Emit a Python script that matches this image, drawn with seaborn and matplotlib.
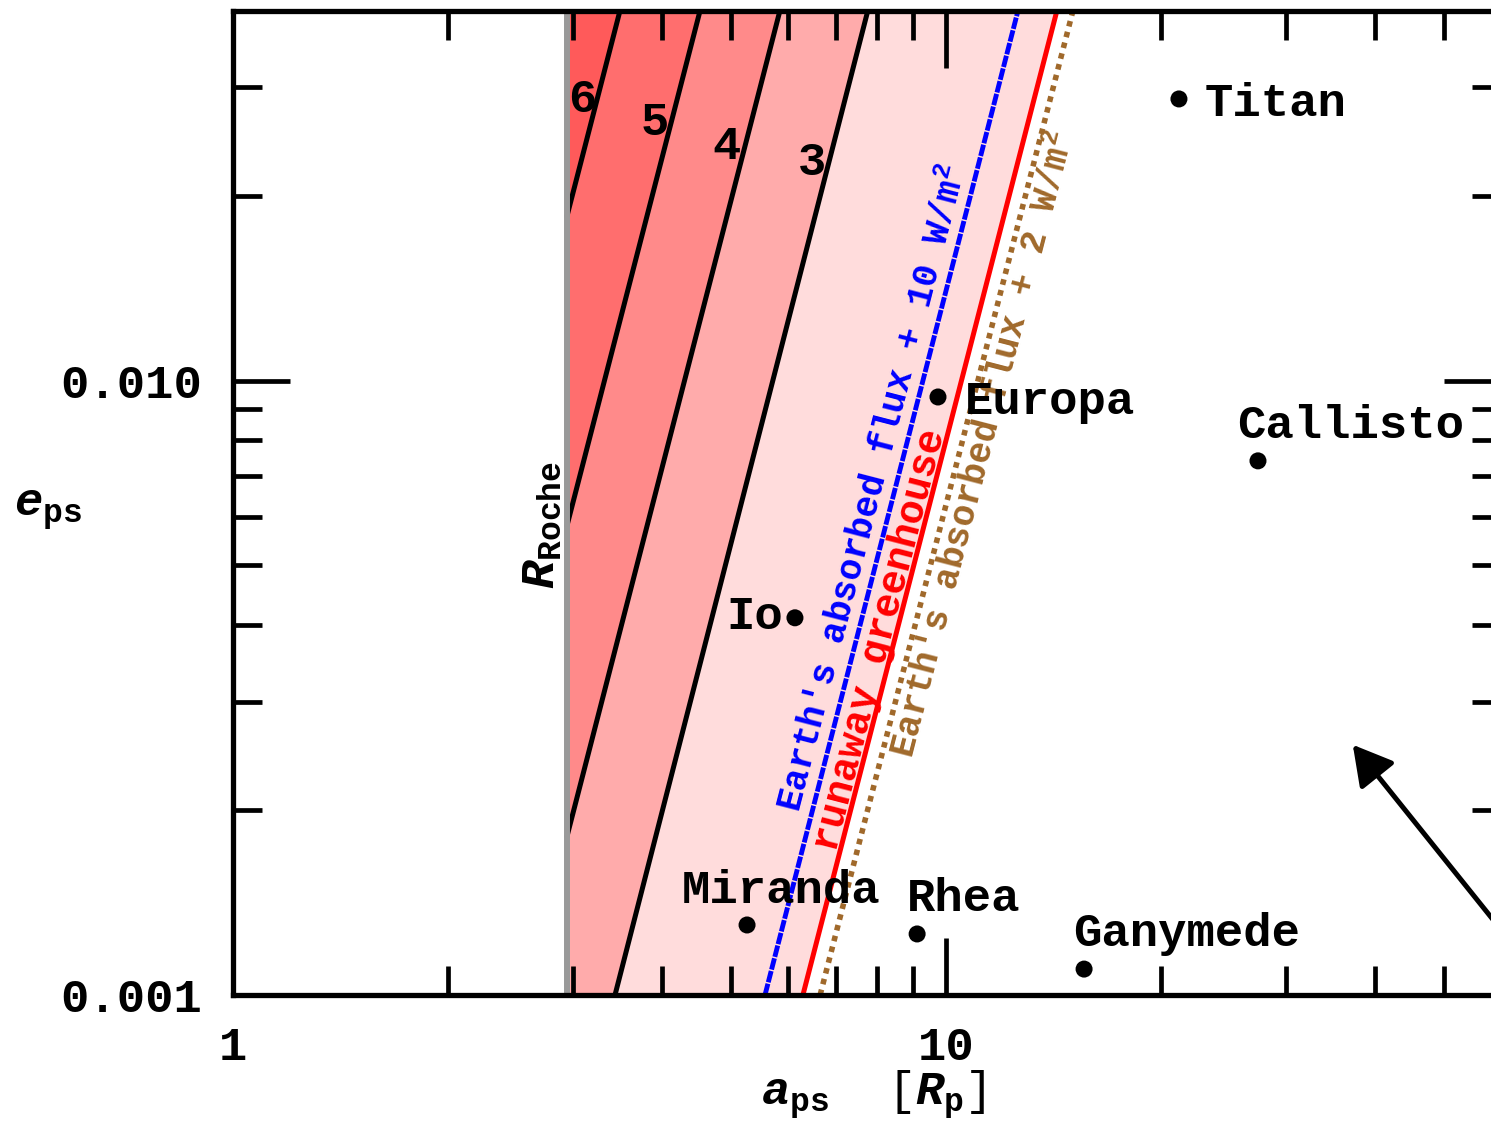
import numpy as np
import matplotlib
matplotlib.use("Agg")
import matplotlib.pyplot as plt
from matplotlib.ticker import LogLocator, NullFormatter, FixedLocator, FixedFormatter
from matplotlib.patches import Polygon
import seaborn as sns

# ---------------- data ----------------
roche_a = 2.94
e_bottom = 0.001
e_top = 0.04

contour_levels = ["6", "5", "4", "3"]
contour_a_start = [2.94, 2.94, 2.94, 3.434]
contour_e_start = [0.0185, 0.0058, 0.00181, 0.001]
contour_a_end = [3.49, 4.52, 5.85, 7.77]
contour_e_end = [0.04, 0.04, 0.04, 0.04]
contour_label_a = [3.087, 3.907, 4.93, 6.49]
contour_label_e = [0.0286, 0.02625, 0.0240, 0.02259]

runaway_a = [6.30, 14.31]
runaway_e = [0.001, 0.04]
flux10_a = [5.574, 12.62]
flux10_e = [0.001, 0.04]
flux2_a = [6.66, 15.07]
flux2_e = [0.001, 0.04]

moon_names = ["Titan", "Europa", "Callisto", "Io", "Miranda", "Rhea", "Ganymede"]
moon_a = [21.22, 9.745, 27.39, 6.14, 5.26, 9.11, 15.62]
moon_e = [0.02872, 0.009401, 0.0074, 0.00411, 0.0013, 0.001257, 0.001102]

x_ticks = [1, 10]
x_ticklabels = ["1", "10"]
y_ticks = [0.001, 0.01]
y_ticklabels = ["0.001", "0.010"]

band_colors = ["#FF5A5A", "#FF6E6E", "#FF8A8A", "#FFABAB", "#FFDCDC"]

# ---------------- style ----------------
sns.set_style("white")
plt.rcParams["font.family"] = ["Liberation Mono", "DejaVu Sans Mono"]
plt.rcParams["font.weight"] = "bold"
plt.rcParams["text.color"] = "black"
plt.rcParams["axes.labelcolor"] = "black"
plt.rcParams["xtick.color"] = "black"
plt.rcParams["ytick.color"] = "black"
plt.rcParams["mathtext.fontset"] = "custom"
plt.rcParams["mathtext.rm"] = "Liberation Mono:bold"
plt.rcParams["mathtext.bf"] = "Liberation Mono:bold"
plt.rcParams["mathtext.it"] = "Liberation Mono:italic:bold"

FS = 34
fig = plt.figure(figsize=(14.91, 11.26), dpi=100)
ax = fig.add_axes([0.15627, 0.11634, 0.8503, 0.8743])
ax.set_xscale("log")
ax.set_yscale("log")
ax.set_xlim(1, 60)
ax.set_ylim(e_bottom, e_top)
ax.set_axisbelow(False)

# ---------------- bands ----------------
polys = []
polys.append([(roche_a, contour_e_start[0]), (roche_a, e_top), (contour_a_end[0], e_top)])
for i in range(2):
    polys.append([(contour_a_start[i], contour_e_start[i]), (contour_a_end[i], contour_e_end[i]),
                  (contour_a_end[i + 1], contour_e_end[i + 1]), (contour_a_start[i + 1], contour_e_start[i + 1])])
polys.append([(roche_a, e_bottom), (contour_a_start[2], contour_e_start[2]), (contour_a_end[2], contour_e_end[2]),
              (contour_a_end[3], contour_e_end[3]), (contour_a_start[3], contour_e_start[3])])
polys.append([(contour_a_start[3], contour_e_start[3]), (contour_a_end[3], contour_e_end[3]),
              (runaway_a[1], runaway_e[1]), (runaway_a[0], runaway_e[0])])
for verts, c in zip(polys, band_colors):
    ax.add_patch(Polygon(verts, closed=True, facecolor=c, edgecolor="none", zorder=1))

# ---------------- lines ----------------
for i in range(4):
    sns.lineplot(x=[contour_a_start[i], contour_a_end[i]], y=[contour_e_start[i], contour_e_end[i]],
                 sort=False, estimator=None, ax=ax, color="black", lw=3.6, zorder=3)
    ax.text(contour_label_a[i], contour_label_e[i], contour_levels[i], fontsize=FS,
            ha="center", va="center", zorder=6)

sns.lineplot(x=flux10_a, y=flux10_e, sort=False, estimator=None, ax=ax, color="#0000FF",
             lw=3.5, linestyle=(0, (2.4, 0.3)), zorder=3)
sns.lineplot(x=runaway_a, y=runaway_e, sort=False, estimator=None, ax=ax, color="#FF0000",
             lw=3.6, zorder=3)
sns.lineplot(x=flux2_a, y=flux2_e, sort=False, estimator=None, ax=ax, color="#A0692B",
             lw=4.0, linestyle=(0, (1, 1.0)), zorder=3)
ax.axvline(roche_a, color="#999999", lw=4.3, zorder=4)

p1 = ax.transData.transform((runaway_a[0], runaway_e[0]))
p2 = ax.transData.transform((runaway_a[1], runaway_e[1]))
ang = np.degrees(np.arctan2(p2[1] - p1[1], p2[0] - p1[0]))

ax.text(7.93, 0.00668, "Earth's absorbed flux + 10 W/m$^{2}$", color="#0000FF", fontsize=26,
        rotation=ang, rotation_mode="anchor", ha="center", va="center", zorder=6)
ax.text(8.08, 0.00378, "runaway greenhouse", color="#FF0000", fontsize=29,
        rotation=ang, rotation_mode="anchor", ha="center", va="center", zorder=6)
ax.text(11.31, 0.00785, "Earth's absorbed flux + 2 W/m$^{2}$", color="#A0692B", fontsize=26,
        rotation=ang, rotation_mode="anchor", ha="center", va="center", zorder=6)
ax.text(2.72, 0.00582, r"$R_{\mathrm{Roche}}$", fontsize=FS, rotation=90,
        ha="center", va="center", zorder=6)

# ---------------- moons ----------------
sns.scatterplot(x=moon_a, y=moon_e, ax=ax, s=150, color="black", edgecolor="none", zorder=7)
offsets = {"Titan": (26, -17, "left"), "Europa": (27, -17, "left"), "Callisto": (-21, 23, "left"),
           "Io": (-12, -11, "right"), "Miranda": (-65, 22, "left"), "Rhea": (-10, 23, "left"),
           "Ganymede": (-11, 23, "left")}
for n, a, e in zip(moon_names, moon_a, moon_e):
    dx, dy, ha = offsets[n]
    ax.annotate(n, (a, e), xytext=(dx, dy), textcoords="offset pixels", fontsize=FS,
                ha=ha, va="baseline", zorder=8, annotation_clip=False)

ax.annotate("", xy=(37.2, 0.002554), xytext=(82.7, 0.000804),
            arrowprops=dict(arrowstyle="-|>,head_length=0.8,head_width=0.45", lw=3.6,
                            color="black", mutation_scale=30, shrinkA=0, shrinkB=0),
            annotation_clip=False, zorder=8)

# ---------------- axes ----------------
ax.xaxis.set_major_locator(FixedLocator(x_ticks))
ax.xaxis.set_major_formatter(FixedFormatter(x_ticklabels))
ax.yaxis.set_major_locator(FixedLocator(y_ticks))
ax.yaxis.set_major_formatter(FixedFormatter(y_ticklabels))
ax.xaxis.set_minor_locator(LogLocator(base=10, subs=np.arange(2, 10)))
ax.yaxis.set_minor_locator(LogLocator(base=10, subs=np.arange(2, 10)))
ax.xaxis.set_minor_formatter(NullFormatter())
ax.yaxis.set_minor_formatter(NullFormatter())
ax.tick_params(which="both", direction="in", top=True, right=True, bottom=True, left=True,
               width=3.4, color="black", labelcolor="black", labelsize=FS)
ax.tick_params(which="major", length=41)
ax.tick_params(which="minor", length=21)
ax.tick_params(axis="y", pad=22)
ax.tick_params(axis="x", pad=22)
for s in ax.spines.values():
    s.set_linewidth(3.8)
    s.set_color("black")
    s.set_zorder(10)

ax.set_xlabel(r"$a_{\mathrm{ps}}$  [$R_{\mathrm{p}}$]", fontsize=FS, va="center")
ax.xaxis.set_label_coords(0.505, -0.1016)
ax.set_ylabel(r"$e_{\mathrm{ps}}$", fontsize=FS, rotation=0, ha="center", va="center")
ax.yaxis.set_label_coords(-0.146, 0.4926)

fig.savefig("out.png", dpi=100)
